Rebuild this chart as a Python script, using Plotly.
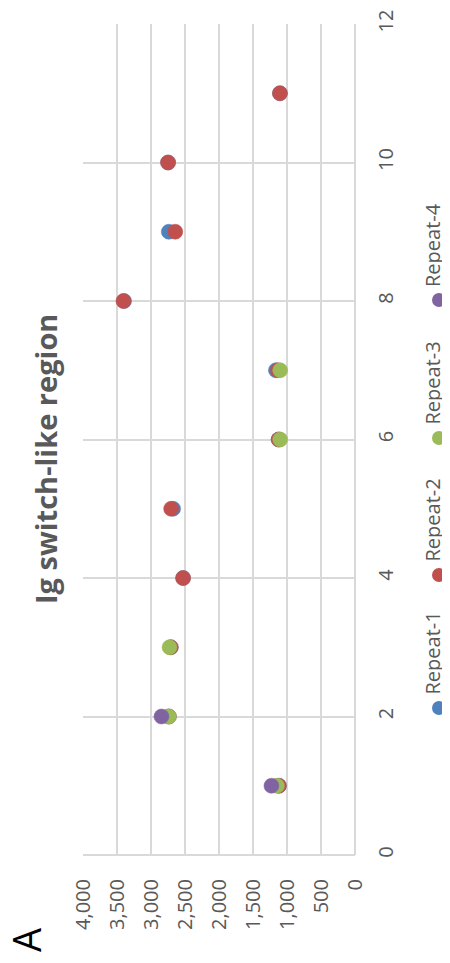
import plotly.graph_objects as go

# ---- data ----
series_names = ["Repeat-1", "Repeat-2", "Repeat-3", "Repeat-4"]
series_colors = ["#4F81BD", "#C0504D", "#9BBB59", "#8064A2"]

r1_x = [1, 2, 3, 4, 5, 6, 7, 8, 9, 10, 11]
r1_y = [1119, 2738, 2709, 2528, 2675, 1123, 1163, 3396, 2738, 2749, 1104]

r2_x = [1, 2, 3, 4, 5, 6, 7, 8, 9, 10, 11]
r2_y = [1119, 2738, 2709, 2528, 2704, 1123, 1134, 3405, 2643, 2749, 1104]

r3_x = [1, 2, 3, 6, 7]
r3_y = [1148, 2738, 2728, 1100, 1100]

r4_x = [1, 2]
r4_y = [1229, 2846]

value_ticks = [0, 500, 1000, 1500, 2000, 2500, 3000, 3500, 4000]
pos_ticks = [0, 2, 4, 6, 8, 10, 12]

title_text = "Ig switch-like region"
panel_label = "A"

xs = [r1_x, r2_x, r3_x, r4_x]
ys = [r1_y, r2_y, r3_y, r4_y]

FONT = "Open Sans"
GRAY = "#595959"
GRID = "#D9D9D9"

fig = go.Figure()
# chart is rotated 90° CCW: values run right->left, positions bottom->top
for name, col, px, vy in zip(series_names, series_colors, xs, ys):
    fig.add_trace(go.Scatter(
        x=vy, y=px, mode="markers", name=name,
        marker=dict(size=15, color=col, line=dict(width=0.5, color=col)),
        showlegend=False, cliponaxis=False,
    ))

fig.update_layout(
    width=442, height=955,
    margin=dict(l=75, r=95, t=16, b=108, autoexpand=False),
    paper_bgcolor="white", plot_bgcolor="white",
    font=dict(family=FONT, color=GRAY, size=20),
    xaxis=dict(
        range=[4000, 0], tickvals=value_ticks,
        ticktext=[f"{v:,}" for v in value_ticks],
        tickangle=-90, showgrid=True, gridcolor=GRID, gridwidth=1.5,
        zeroline=True, zerolinecolor=GRID, zerolinewidth=1.5,
        showline=False, ticks="", ticklabelstandoff=19, automargin=False,
        tickfont=dict(size=20, color=GRAY),
    ),
    yaxis=dict(
        range=[0, 12], tickvals=pos_ticks, side="right",
        tickangle=-90, showgrid=True, gridcolor=GRID, gridwidth=1.5,
        zeroline=True, zerolinecolor=GRID, zerolinewidth=1.5,
        showline=False, ticks="", ticklabelstandoff=17, automargin=False,
        tickfont=dict(size=20, color=GRAY),
    ),
)

# geometry helpers (page pixel -> paper coords of plot area)
plot_top, plot_bottom, plot_left, plot_right = 24, 855, 83, 355
def py(s):
    return (plot_bottom - s) / (plot_bottom - plot_top)
def pxp(s):
    return (s - plot_left) / (plot_right - plot_left)

# title and panel letter (rotated)
fig.add_annotation(text=f"<b>{title_text}</b>", xref="paper", yref="paper",
                   x=pxp(45), y=py(459), showarrow=False, textangle=-90,
                   font=dict(size=29, color=GRAY, family=FONT),
                   xanchor="center", yanchor="middle")
fig.add_annotation(text=panel_label, xref="paper", yref="paper",
                   x=pxp(26), y=py(940), showarrow=False, textangle=-90,
                   font=dict(size=38, color="black", family=FONT),
                   xanchor="center", yanchor="middle")

# rotated legend
leg_marker_y = [708, 575, 438, 300]  # page px of markers
for name, col, my in zip(series_names, series_colors, leg_marker_y):
    fig.add_shape(type="circle", xref="paper", yref="paper",
                  xsizemode="pixel", ysizemode="pixel",
                  xanchor=pxp(439), yanchor=py(my),
                  x0=-7, x1=7, y0=-7, y1=7,
                  fillcolor=col, line=dict(width=0))
    fig.add_annotation(text=name, xref="paper", yref="paper",
                       x=pxp(432), y=py(my - 11), showarrow=False,
                       textangle=-90, font=dict(size=20, color=GRAY, family=FONT),
                       xanchor="center", yanchor="bottom")

fig.write_html("out.html")
